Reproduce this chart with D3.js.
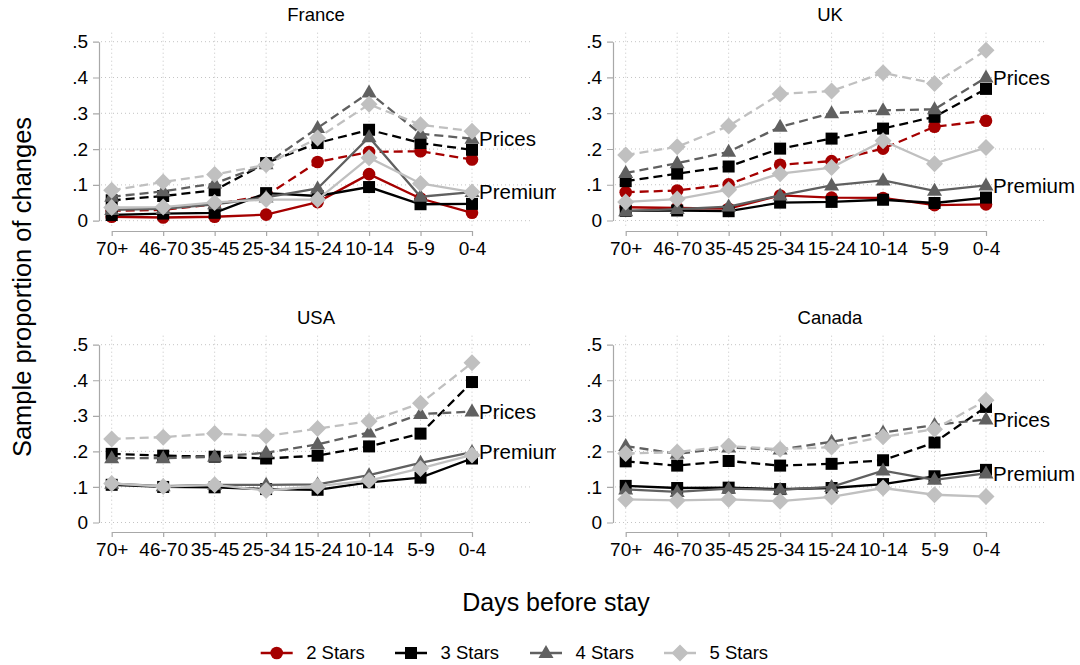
<!DOCTYPE html>
<html><head><meta charset="utf-8">
<script src="https://cdn.jsdelivr.net/npm/d3@7"></script>
<style>body{margin:0;background:#fff}svg{display:block;font-family:"Liberation Sans",Arial,sans-serif}</style>
</head><body><svg id="c" width="1080" height="665"></svg>
<script>
// ---- data ----
const categories = ["70+","46-70","35-45","25-34","15-24","10-14","5-9","0-4"];
const yTicks = [0,0.1,0.2,0.3,0.4,0.5];
const yTickLabels = ["0",".1",".2",".3",".4",".5"];
const seriesNames = ["2 Stars","3 Stars","4 Stars","5 Stars"];
const countries = ["France","UK","USA","Canada"];

// rows: 2 Stars, 3 Stars, 4 Stars, 5 Stars (null = not shown)
const francePrices = [
  [0.028,0.030,0.046,0.070,0.164,0.192,0.194,0.171],
  [0.057,0.069,0.085,0.161,0.217,0.254,0.217,0.198],
  [0.067,0.082,0.104,0.158,0.259,0.358,0.243,0.229],
  [0.085,0.108,0.129,0.156,0.231,0.325,0.268,0.250]
];
const francePremium = [
  [0.011,0.009,0.011,0.017,0.052,0.130,0.062,0.022],
  [0.016,0.020,0.022,0.077,0.069,0.094,0.046,0.047],
  [0.030,0.033,0.046,0.065,0.090,0.233,0.067,0.080],
  [0.037,0.038,0.051,0.059,0.059,0.176,0.104,0.080]
];
const ukPrices = [
  [0.079,0.084,0.101,0.156,0.166,0.201,0.262,0.279],
  [0.110,0.131,0.151,0.201,0.229,0.257,0.290,0.368],
  [0.133,0.160,0.192,0.262,0.300,0.308,0.311,0.400],
  [0.183,0.206,0.264,0.354,0.362,0.413,0.383,0.476]
];
const ukPremium = [
  [0.037,0.035,0.033,0.070,0.064,0.063,0.043,0.045],
  [0.027,0.028,0.026,0.050,0.052,0.058,0.049,0.064],
  [0.026,0.032,0.039,0.070,0.098,0.112,0.083,0.098],
  [0.052,0.060,0.086,0.131,0.148,0.223,0.159,0.204]
];
const usaPrices = [
  null,
  [0.193,0.188,0.185,0.180,0.188,0.214,0.250,0.395],
  [0.181,0.181,0.185,0.196,0.220,0.253,0.305,0.312],
  [0.235,0.240,0.250,0.243,0.264,0.285,0.335,0.449]
];
const usaPremium = [
  null,
  [0.106,0.100,0.099,0.094,0.092,0.113,0.126,0.180],
  [0.109,0.102,0.106,0.106,0.107,0.133,0.168,0.198],
  [0.110,0.101,0.106,0.090,0.102,0.118,0.152,0.190]
];
const canadaPrices = [
  null,
  [0.172,0.160,0.173,0.160,0.165,0.175,0.225,0.325],
  [0.215,0.193,0.211,0.205,0.227,0.253,0.274,0.290],
  [0.194,0.198,0.215,0.206,0.212,0.241,0.262,0.344]
];
const canadaPremium = [
  null,
  [0.103,0.097,0.098,0.094,0.097,0.108,0.130,0.148],
  [0.093,0.086,0.095,0.092,0.100,0.146,0.120,0.138],
  [0.065,0.062,0.065,0.060,0.072,0.097,0.078,0.073]
];
const labelPrices = "Prices";
const labelPremium = "Premium";

// ---- style ----
const colors = ["#a50000","#000000","#606060","#c0c0c0"];
const shapes = ["circle","square","triangle","diamond"];
const dataByCountry = {
  France:[francePrices,francePremium], UK:[ukPrices,ukPremium],
  USA:[usaPrices,usaPremium], Canada:[canadaPrices,canadaPremium]
};
const layout = {
  France:{x0:99, yTop:41.7, yBot:220.7, axisY:231, clip:556},
  UK:{x0:613, yTop:41.7, yBot:220.5, axisY:231, clip:1080},
  USA:{x0:99, yTop:344.7, yBot:522.5, axisY:532, clip:556},
  Canada:{x0:613, yTop:344.7, yBot:522.5, axisY:532, clip:1080}
};
const plotW = 434;

const svg = d3.select("#c");
const defs = svg.append("defs");

function marker(g, shape, cx, cy, color){
  if(shape==="circle") g.append("circle").attr("cx",cx).attr("cy",cy).attr("r",6.3).attr("fill",color);
  else if(shape==="square") g.append("rect").attr("x",cx-6).attr("y",cy-6).attr("width",12).attr("height",12).attr("fill",color);
  else if(shape==="triangle") g.append("path").attr("d",`M${cx},${cy-8}L${cx+7.5},${cy+5}L${cx-7.5},${cy+5}Z`).attr("fill",color);
  else g.append("path").attr("d",`M${cx},${cy-8.5}L${cx+8.5},${cy}L${cx},${cy+8.5}L${cx-8.5},${cy}Z`).attr("fill",color);
}

countries.forEach((name,ci)=>{
  const L = layout[name];
  const [prices, premium] = dataByCountry[name];
  const x = d3.scalePoint().domain(categories).range([L.x0+12.7, L.x0+373]);
  const y = d3.scaleLinear().domain([0,0.5]).range([L.yBot, L.yTop]);
  const cid = "clip"+ci;
  defs.append("clipPath").attr("id",cid).append("rect")
    .attr("x",L.x0-100).attr("y",L.yTop-40).attr("width",L.clip-(L.x0-100)).attr("height",300);
  const g = svg.append("g").attr("clip-path",`url(#${cid})`);

  // grid
  g.selectAll(".hg").data(yTicks).join("line")
    .attr("x1",L.x0+2).attr("x2",L.x0+plotW).attr("y1",d=>y(d)).attr("y2",d=>y(d))
    .attr("stroke","#c4c4c4").attr("stroke-width",1).attr("stroke-dasharray","1,3");
  g.selectAll(".vg").data(categories).join("line")
    .attr("x1",d=>x(d)).attr("x2",d=>x(d)).attr("y1",L.yTop-9).attr("y2",L.yBot+6)
    .attr("stroke","#c4c4c4").attr("stroke-width",1).attr("stroke-dasharray","1,3");

  // axes
  const ya = g.append("g").attr("transform",`translate(${L.x0},0)`)
    .call(d3.axisLeft(y).tickValues(yTicks).tickFormat((d,i)=>yTickLabels[i]).tickSize(6).tickSizeOuter(0).tickPadding(5));
  const xa = g.append("g").attr("transform",`translate(0,${L.axisY})`)
    .call(d3.axisBottom(x).tickSize(5).tickSizeOuter(0).tickPadding(6));
  [ya,xa].forEach(a=>{
    a.selectAll("path,line").attr("stroke","#a8a8a8").attr("stroke-width",1.2);
    a.selectAll("text").attr("fill","#000").attr("font-size",19).attr("font-family","'Liberation Sans',Arial,sans-serif");
  });

  // series
  const line = d3.line().x((d,i)=>x(categories[i])).y(d=>y(d));
  [[prices,true],[premium,false]].forEach(([set,dashed])=>{
    set.forEach((vals,si)=>{
      if(!vals) return;
      g.append("path").attr("d",line(vals)).attr("fill","none")
        .attr("stroke",colors[si]).attr("stroke-width",2.3)
        .attr("stroke-dasharray",dashed?"9,5":null);
      const mg = g.append("g");
      vals.forEach((v,i)=>marker(mg, shapes[si], x(categories[i]), y(v), colors[si]));
    });
  });

  // end labels (at 4 Stars values)
  const last = categories[categories.length-1];
  g.append("text").attr("x",x(last)+7).attr("y",y(prices[2][7])).attr("dy","0.35em")
    .attr("font-size",20.5).text(labelPrices);
  g.append("text").attr("x",x(last)+7).attr("y",y(premium[2][7])).attr("dy","0.35em")
    .attr("font-size",20.5).text(labelPremium);

  // title
  svg.append("text").attr("x",L.x0+plotW/2).attr("y",L.yTop-21).attr("text-anchor","middle")
    .attr("font-size",18.5).text(name);
});

// axis titles
svg.append("text").attr("x",556).attr("y",611).attr("text-anchor","middle").attr("font-size",25).text("Days before stay");
svg.append("text").attr("transform","translate(31,287) rotate(-90)").attr("text-anchor","middle").attr("font-size",25.5).text("Sample proportion of changes");

// legend
const legX = [260.7,395,530,664];
const lg = svg.append("g");
seriesNames.forEach((s,i)=>{
  const lx = legX[i], ly = 653;
  lg.append("line").attr("x1",lx).attr("x2",lx+32).attr("y1",ly).attr("y2",ly)
    .attr("stroke",colors[i]).attr("stroke-width",2.5);
  marker(lg, shapes[i], lx+16, ly, colors[i]);
  lg.append("text").attr("x",lx+45.5).attr("y",ly).attr("dy","0.35em").attr("font-size",18.5).text(s);
});
</script></body></html>
